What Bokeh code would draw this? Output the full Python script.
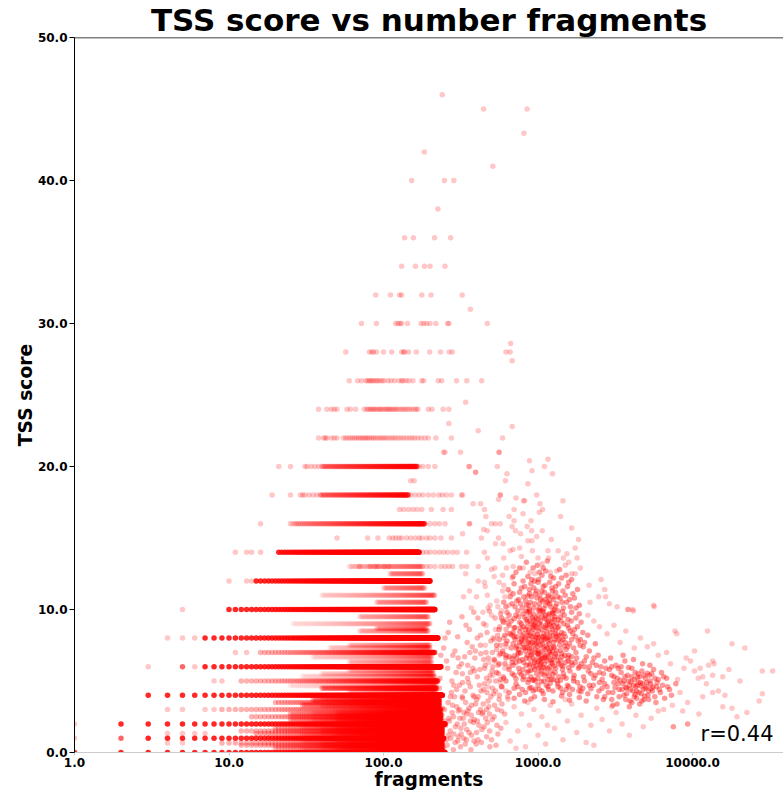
import numpy as np
from bokeh.plotting import figure
from bokeh.models import Label, Span, FixedTicker, PrintfTickFormatter
from bokeh.embed import file_html
from bokeh.resources import INLINE

TITLE = "TSS score vs number fragments"
X_LABEL = "fragments"
Y_LABEL = "TSS score"
R_TEXT = "r=0.44"
x_ticks = [1, 10, 100, 1000, 10000]
y_ticks = [0, 10, 20, 30, 40, 50]

# Bands where every fragment count between "from" and "to" occurs at one TSS level
heavy_tss = [0, 1, 2, 4, 6, 8, 10, 12, 14]
heavy_from = [1, 3, 2, 3, 7, 7, 10, 15, 21]
heavy_to = [250, 245, 250, 240, 235, 225, 215, 200, 170]

medium_tss = [3, 5, 7, 0.5, 1.5, 2.5, 3.5, 0.33, 0.67, 1.33, 1.67, 2.33, 2.67, 3.33, 3.67, 4.5, 16, 18, 20]
medium_from = [9, 12, 16, 12, 12, 14, 20, 20, 9, 15, 20, 25, 25, 30, 35, 40, 27, 39, 40]
medium_to = [235, 225, 215, 240, 240, 235, 230, 240, 240, 240, 240, 235, 235, 230, 230, 220, 185, 145, 165]

light_tss = [0.25, 0.75, 1.25, 1.75, 2.25, 2.75, 3.25, 3.75, 0.2, 0.4, 0.6, 0.8, 1.2, 1.4, 1.6, 1.8,
             2.2, 2.4, 2.6, 2.8, 4.25, 4.67, 5.33, 5.5, 5.75, 6.33, 6.67, 7.33, 7.5, 8.5, 8.67, 9,
             9.5, 10.5, 11, 11.5, 12.5, 13]
light_from = [30, 30, 30, 30, 35, 35, 40, 40, 50, 40, 40, 50, 50, 40, 40, 50,
              50, 50, 50, 50, 60, 25, 30, 40, 60, 60, 35, 45, 60, 70, 90, 26,
              70, 90, 40, 100, 110, 60]
light_to = [240, 240, 240, 240, 235, 235, 230, 230, 240, 240, 240, 240, 240, 240, 240, 240,
            235, 235, 235, 235, 220, 220, 215, 210, 210, 205, 205, 200, 200, 195, 190, 200,
            195, 190, 215, 185, 180, 180]

# single strongly stacked cells at very few fragments
stacked_pts = [(2, 1), (5, 6)]
# single cells at very few fragments
few_pts = [(1, 1), (1, 2), (3, 6), (6, 6), (4, 8), (5, 8), (6, 8), (5, 10), (4, 0.67), (5, 0.67),
           (4, 1.33), (5, 1.33), (6, 1.33), (7, 1.33), (4, 3), (5, 3), (7, 3), (8, 3), (8, 5), (9, 5),
           (10, 12), (13, 12), (14, 12), (11, 7), (13, 7)]

# sparse cells on the upper discrete TSS levels
upper_tss = [46, 45, 43.3, 42, 41, 40, 38, 36, 34, 32, 31, 30, 28.6, 28, 27.4, 26, 24.5, 24, 23,
             22.8, 22.5, 22, 21, 20, 19.6, 19, 18, 17, 16, 15, 14, 13]
upper_frags = [
    [240], [444, 850], [810], [184], [510], [152, 248, 285], [225], [137, 156, 214, 272],
    [131, 161, 184, 200, 250], [89, 111, 127, 131, 177, 203, 323], [365],
    [72, 90, 120, 124, 128, 131, 143, 175, 182, 190, 200, 218, 260, 265, 470], [665],
    [57, 81, 84, 86, 90, 100, 113, 131, 135, 137, 145, 163, 199, 234, 266, 279, 620, 660], [680],
    [60, 68, 72, 77, 79, 81, 83, 85, 87, 90, 92, 95, 98, 101, 107, 112, 118, 126, 131, 134, 140,
     146, 155, 177, 182, 226, 238, 297, 346, 432],
    [340],
    [38, 43, 46, 48, 50, 58, 61, 66, 75, 78, 80, 82, 84, 86, 88, 90, 93, 95, 97, 100, 103, 105,
     108, 110, 113, 116, 119, 122, 126, 130, 134, 138, 142, 147, 152, 158, 163, 167, 195, 206, 243, 265],
    [265], [680], [410],
    [38, 41, 42, 43, 46, 48, 50, 55, 57, 59, 61, 63, 65, 67, 69, 71, 73, 75, 77, 79, 81, 84, 86,
     89, 92, 95, 98, 101, 104, 108, 112, 116, 120, 125, 130, 135, 141, 147, 153, 159, 167, 175,
     185, 195, 218, 275, 590],
    [245, 250, 315, 560],
    [21, 25, 31, 32, 34, 36, 38, 170, 180, 195, 215, 357],
    [394], [150, 158],
    [19, 25, 29, 30, 31, 33, 35, 37, 150, 160, 170, 180, 195, 210, 228, 240, 255, 275, 325, 570],
    [127, 135, 145, 155, 165, 177, 204, 243, 275],
    [16, 25, 26, 200, 215, 230, 250, 360, 570],
    [50, 79, 92, 109, 115, 120, 126, 131, 141, 150, 160, 170, 177, 190, 200, 215, 235, 275],
    [11, 13, 14, 16, 180, 190, 200, 215, 230, 245, 260, 280, 300],
    [70, 82, 88, 92, 101, 108, 190, 200, 215, 235, 250, 265, 280],
]

# dense cloud of cells around 1000 fragments
core_pts = [
    (720, 12.6), (860, 12.3), (930, 12.9), (1010, 12.1), (1120, 12.7), (1260, 12.2), (1380, 12.8),
    (1520, 12.4), (800, 12.0), (1650, 12.1), (990, 13.1), (1190, 11.9),
    (640, 11.4), (700, 11.8), (760, 11.2), (820, 11.6), (880, 11.1), (940, 11.5), (1000, 11.9),
    (1060, 11.3), (1110, 11.7), (1170, 11.0), (1230, 11.5), (1300, 11.2), (1360, 11.8), (1450, 11.3),
    (1550, 11.6), (1680, 11.1), (1800, 11.4), (900, 11.8), (1030, 11.0), (780, 11.5),
    (600, 10.5), (660, 10.9), (710, 10.2), (750, 10.7), (790, 10.1), (830, 10.6), (870, 10.3),
    (910, 10.9), (950, 10.4), (985, 10.8), (1020, 10.1), (1070, 10.6), (1120, 10.3), (1160, 10.9),
    (1210, 10.2), (1260, 10.7), (1320, 10.4), (1390, 10.8), (1460, 10.1), (1530, 10.5), (1620, 10.2),
    (1720, 10.8), (1850, 10.3), (680, 10.4), (860, 10.95), (1090, 10.05), (1280, 10.0), (940, 10.1),
    (580, 9.4), (630, 9.8), (670, 9.2), (720, 9.6), (760, 9.1), (800, 9.7), (840, 9.3), (880, 9.9),
    (920, 9.4), (960, 9.1), (1000, 9.6), (1040, 9.2), (1080, 9.8), (1130, 9.3), (1180, 9.7),
    (1230, 9.1), (1290, 9.5), (1350, 9.9), (1410, 9.2), (1480, 9.6), (1560, 9.3), (1650, 9.8),
    (1760, 9.4), (1900, 9.1), (740, 9.9), (900, 9.0), (1010, 9.95), (1150, 9.05), (1320, 9.0),
    (820, 9.45), (1060, 9.5), (1240, 9.75), (700, 9.35), (1440, 9.85),
    (560, 8.6), (610, 8.2), (650, 8.9), (690, 8.4), (730, 8.1), (770, 8.7), (810, 8.3), (850, 8.8),
    (890, 8.2), (930, 8.6), (970, 8.05), (1010, 8.5), (1050, 8.9), (1090, 8.3), (1140, 8.7),
    (1190, 8.1), (1240, 8.6), (1300, 8.3), (1360, 8.8), (1420, 8.4), (1500, 8.1), (1580, 8.7),
    (1680, 8.3), (1800, 8.8), (1950, 8.4), (2100, 8.2), (760, 8.45), (870, 8.55), (990, 8.25),
    (1110, 8.75), (1260, 8.9), (1390, 8.15), (710, 8.75), (950, 8.95), (1070, 8.1), (1200, 8.4),
    (830, 8.0), (1620, 8.5),
    (540, 7.5), (590, 7.1), (630, 7.8), (670, 7.3), (710, 7.9), (750, 7.2), (790, 7.6), (830, 7.1),
    (870, 7.7), (910, 7.3), (950, 7.9), (990, 7.4), (1030, 7.0), (1070, 7.6), (1110, 7.2),
    (1160, 7.8), (1210, 7.3), (1260, 7.7), (1320, 7.1), (1380, 7.5), (1450, 7.9), (1520, 7.2),
    (1600, 7.6), (1700, 7.3), (1820, 7.8), (1960, 7.4), (2150, 7.1), (2350, 7.6), (780, 7.95),
    (890, 7.05), (1000, 7.75), (1130, 7.45), (1240, 7.05), (1350, 7.85), (730, 7.45), (850, 7.35),
    (960, 7.55), (1090, 7.9), (1180, 7.0), (1480, 7.45),
    (520, 6.5), (570, 6.9), (610, 6.2), (650, 6.7), (690, 6.1), (730, 6.6), (770, 6.95), (810, 6.3),
    (850, 6.8), (890, 6.2), (930, 6.6), (970, 6.1), (1010, 6.7), (1050, 6.3), (1090, 6.9),
    (1140, 6.4), (1190, 6.0), (1240, 6.5), (1300, 6.9), (1360, 6.2), (1430, 6.7), (1500, 6.3),
    (1580, 6.8), (1670, 6.1), (1780, 6.6), (1900, 6.2), (2050, 6.7), (2250, 6.3), (2450, 6.8),
    (2700, 6.4), (760, 6.4), (880, 6.55), (1000, 6.35), (1120, 6.75), (1270, 6.05), (1400, 6.45),
    (700, 6.75), (940, 6.0), (1060, 6.55), (1210, 6.85),
    (540, 5.6), (600, 5.2), (650, 5.8), (700, 5.4), (750, 5.9), (800, 5.1), (850, 5.6), (900, 5.3),
    (950, 5.8), (1000, 5.2), (1050, 5.7), (1100, 5.4), (1160, 5.9), (1220, 5.1), (1290, 5.6),
    (1360, 5.3), (1440, 5.8), (1520, 5.2), (1610, 5.7), (1710, 5.4), (1830, 5.9), (1970, 5.3),
    (2120, 5.7), (2300, 5.2), (2500, 5.6), (2750, 5.9), (3000, 5.4), (780, 5.45), (920, 5.05),
    (1080, 5.95), (1250, 5.45), (1400, 5.05), (720, 5.15), (980, 5.5), (1180, 5.35), (1580, 5.95),
    (580, 4.6), (650, 4.2), (720, 4.8), (790, 4.4), (860, 4.9), (930, 4.3), (1000, 4.7), (1080, 4.1),
    (1160, 4.6), (1250, 4.3), (1340, 4.8), (1440, 4.2), (1550, 4.7), (1670, 4.4), (1800, 4.9),
    (1950, 4.5), (2100, 4.1), (2280, 4.7), (2480, 4.3), (2700, 4.8), (760, 4.05), (900, 4.55),
    (1050, 4.95), (1200, 4.85), (1400, 4.5), (1600, 4.05), (1900, 4.25), (2200, 4.45),
    (700, 3.8), (820, 3.6), (950, 3.9), (1100, 3.7), (1250, 3.55), (1420, 3.95), (1600, 3.65),
    (1850, 3.85), (2050, 3.6), (2400, 3.9), (2650, 3.7), (900, 3.75),
    (820, 7.9), (870, 8.4), (910, 6.9), (960, 7.2), (1020, 8.1), (1080, 7.3), (1130, 6.6),
    (1180, 7.6), (1250, 8.2), (840, 6.6), (930, 8.9), (1000, 6.9), (1060, 8.6), (1150, 8.05),
    (1210, 6.45), (880, 7.25), (975, 7.65), (1040, 6.15), (1120, 7.95), (790, 8.15), (850, 9.15),
    (1100, 9.4), (1190, 8.95), (900, 5.75), (1010, 5.85), (1130, 5.55), (950, 6.45), (1270, 7.35),
    (800, 7.35), (1300, 8.55), (760, 7.7), (1230, 9.35), (890, 9.6), (1020, 10.4), (1150, 10.5),
    (1330, 6.7), (1400, 7.15), (1450, 6.05), (700, 8.1), (680, 6.55),
    (830, 8.6), (880, 6.1), (920, 7.7), (970, 8.8), (1010, 7.1), (1050, 5.5), (1090, 6.6),
    (1140, 8.4), (1190, 7.1), (1240, 6.2), (1290, 7.9), (1350, 8.2), (1420, 6.9), (1500, 7.7),
    (1560, 6.6), (860, 9.8), (940, 9.3), (1030, 9.9), (1110, 10.7), (1190, 10.4), (780, 9.0),
    (750, 7.0), (720, 6.3), (690, 7.6), (660, 8.3), (800, 5.8), (870, 5.1), (960, 4.4), (1060, 4.3),
    (1160, 5.1), (1300, 5.9), (1460, 5.5), (1640, 6.3), (1760, 7.0), (1880, 7.9), (2000, 6.0),
    (2200, 5.5), (2380, 6.1), (840, 10.3), (980, 11.3), (1080, 11.6), (1240, 10.9), (910, 12.1),
    (1060, 12.4), (1350, 9.3), (1250, 9.9), (1170, 9.6), (990, 8.7), (920, 8.1), (850, 7.6),
    (1020, 6.4), (1110, 5.9), (1210, 5.7), (1330, 5.0), (1520, 4.4), (1700, 5.0), (1870, 4.6),
    (760, 5.6), (700, 4.5), (620, 6.6),
    (760, 12.9), (840, 13.3), (950, 12.0), (1080, 12.9), (1150, 13.4), (1300, 11.6), (1420, 12.2),
    (880, 11.4), (1020, 12.6), (1210, 12.3), (690, 12.3), (1580, 11.9),
    (620, 10.2), (690, 11.1), (730, 10.6), (810, 10.9), (890, 10.5), (960, 11.1), (1040, 10.7),
    (1100, 11.2), (1180, 10.6), (1240, 11.3), (1340, 10.9), (1430, 10.5), (1500, 11.0), (1600, 10.7),
    (1760, 10.1), (880, 10.0), (1300, 10.2), (770, 10.4),
    (600, 9.1), (650, 9.6), (700, 8.7), (750, 9.5), (800, 8.8), (840, 9.9), (880, 9.2), (930, 9.7),
    (970, 9.4), (1020, 9.0), (1070, 9.9), (1120, 9.6), (1170, 9.2), (1220, 8.8), (1280, 9.3),
    (1340, 8.7), (1400, 9.5), (1470, 9.0), (1550, 8.9), (1640, 9.2), (1720, 8.6), (1850, 9.7),
    (920, 8.7), (1130, 8.9), (1260, 9.7), (1000, 9.3),
    (560, 7.9), (620, 7.6), (680, 8.2), (720, 7.3), (780, 7.8), (820, 7.3), (860, 8.2), (900, 7.6),
    (940, 8.3), (1000, 8.0), (1040, 7.5), (1100, 8.1), (1150, 7.3), (1200, 7.9), (1260, 7.4),
    (1310, 8.1), (1400, 7.8), (1470, 8.3), (1560, 7.4), (1650, 7.9), (1750, 8.1), (1870, 7.5),
    (2000, 7.7), (1050, 7.8), (960, 7.0), (880, 7.9),
    (560, 6.2), (620, 6.8), (680, 6.3), (740, 6.9), (790, 6.5), (840, 6.1), (900, 6.8), (950, 6.3),
    (1000, 6.9), (1050, 6.6), (1100, 6.2), (1160, 6.7), (1220, 6.3), (1280, 6.7), (1340, 6.4),
    (1410, 6.1), (1490, 6.8), (1570, 6.4), (1650, 6.7), (1740, 6.3), (1850, 6.0), (2000, 6.4),
    (2150, 6.0), (2300, 6.6), (1030, 6.0), (870, 5.7),
    (620, 5.0), (680, 5.5), (740, 4.6), (810, 5.3), (880, 4.5), (940, 5.1), (1020, 4.4), (1090, 5.0),
    (1170, 4.4), (1260, 5.1), (1350, 4.6), (1470, 5.3), (1580, 4.6), (1700, 5.2), (1840, 4.3),
    (2000, 5.0), (2150, 4.7), (2350, 5.4), (2600, 4.5), (1130, 4.7), (960, 5.0), (830, 4.2),
]

# dense tail of cells towards 5000 fragments
tail_pts = [
    (2600, 5.1), (2800, 4.6), (2900, 5.8), (3050, 4.2), (3100, 5.3), (3200, 6.1), (3300, 4.8),
    (3350, 3.9), (3450, 5.6), (3500, 4.4), (3600, 5.0), (3650, 6.4), (3750, 4.1), (3800, 5.4),
    (3900, 4.7), (3950, 3.6), (4050, 5.9), (4100, 4.3), (4200, 5.1), (4300, 4.6), (4350, 3.8),
    (4450, 5.5), (4500, 4.2), (4600, 4.9), (4700, 5.7), (4800, 4.4), (4850, 3.7), (4950, 5.2),
    (5050, 4.6), (5150, 4.0), (5250, 5.4), (5350, 4.8), (5500, 4.3), (5600, 5.8), (5700, 3.9),
    (5850, 4.6), (6000, 5.1), (6200, 4.2), (6400, 4.7), (6600, 3.8), (3150, 4.55), (3400, 5.05),
    (3700, 4.55), (3850, 5.95), (4000, 4.95), (4250, 4.05), (4400, 5.25), (4650, 4.65), (4900, 3.95),
    (5100, 5.55), (5400, 4.45), (3000, 3.7), (3250, 3.4), (2700, 3.9), (2950, 6.6), (3550, 6.8),
    (4150, 6.5), (4750, 6.2), (5300, 6.1), (2550, 6.0), (3900, 3.2), (4550, 3.4), (5800, 3.5),
    (6300, 5.6), (6800, 5.2), (7100, 4.4), (3300, 5.9), (3600, 4.0), (4050, 3.5), (4400, 4.7),
    (2500, 4.9), (2650, 5.5), (2850, 4.2), (3000, 6.0), (3100, 4.9), (3250, 5.2), (3350, 4.4),
    (3450, 6.0), (3550, 4.8), (3650, 5.3), (3750, 4.5), (3850, 5.0), (3950, 4.4), (4050, 5.3),
    (4150, 4.7), (4250, 5.6), (4350, 4.3), (4450, 4.9), (4550, 5.3), (4650, 4.1), (4750, 4.8),
    (4850, 5.4), (4950, 4.5), (5050, 4.9), (5200, 4.3), (5300, 5.0), (5450, 5.5), (5550, 4.6),
    (5700, 5.2), (5900, 4.9), (6100, 4.4), (6500, 5.3), (6900, 4.6), (7300, 4.0), (7800, 4.8),
    (3050, 3.3), (3700, 3.7), (4200, 3.9), (4700, 3.6), (5200, 3.7),
]

# scattered cells above the dense cloud
spike_pts = [
    (560, 21), (360, 20), (545, 20), (880, 20.4), (1160, 20.5), (1100, 20), (395, 19.6), (630, 19.5),
    (915, 19.7), (1240, 19.5), (615, 19), (860, 18.8), (570, 18), (720, 17.8), (980, 18), (555, 17.7),
    (805, 17.6), (820, 17.6), (1450, 17.6), (1030, 17.4), (380, 17.4), (425, 17.4), (450, 17),
    (700, 17), (800, 16.7), (1070, 17), (1020, 16.8), (320, 18), (1400, 16.5), (650, 16.5),
    (460, 16.5), (360, 16), (500, 16), (530, 16), (900, 16.2), (700, 16.2), (680, 15.8), (850, 15.8),
    (1650, 15.7), (445, 15.6), (470, 15.5), (715, 15.5), (910, 15.5), (1065, 15.5), (770, 15.3),
    (325, 15.3), (430, 15), (555, 15), (595, 14.6), (530, 14.6), (860, 14.8), (915, 14.8),
    (1220, 14.9), (980, 15.1), (1830, 14.9), (660, 14.1), (690, 14.2), (760, 14.3), (920, 14.1),
    (1160, 14.1), (1350, 14.1), (1540, 13.9), (1740, 14.3), (450, 14), (345, 14), (470, 13.6),
    (600, 13.6), (780, 13.7), (1000, 13.6), (1170, 13.6), (1460, 13.6), (1790, 13.6), (1500, 13.1),
    (1580, 13.3), (1880, 12.9), (1065, 13.2), (625, 12.9), (690, 13), (800, 12.9), (890, 12.6),
    (955, 12.5), (1200, 12.6), (1320, 12.7), (1650, 12.5), (1740, 12.5), (2140, 11.7), (2560, 12.1),
    (2700, 11.4), (3250, 10.2), (3850, 10), (4100, 10), (5600, 10.3), (2470, 10.9), (2740, 10.9),
    (2900, 10.4), (2170, 10.5), (345, 13), (320, 13), (410, 13), (525, 12.9), (340, 12.5),
    (520, 12.3), (410, 12), (450, 11.9), (455, 11.6), (360, 11.3), (400, 10.9), (330, 10.9),
    (590, 11.3), (610, 10.9), (660, 11.2), (550, 10.2), (475, 10.1), (370, 10.1), (440, 9.8),
]

# scattered cells between the discrete bands and the dense cloud
bridge_pts = [
    (210, 0.6), (225, 1.8), (240, 3.1), (255, 0.9), (265, 2.4), (275, 4.2), (285, 1.3), (295, 5.6),
    (305, 2.9), (315, 0.4), (325, 3.8), (335, 6.7), (345, 1.6), (355, 4.9), (365, 2.2), (375, 7.4),
    (385, 0.8), (395, 3.4), (405, 5.3), (415, 1.9), (425, 8.2), (435, 2.7), (445, 4.4), (455, 6.1),
    (465, 1.1), (475, 3.6), (485, 5.0), (495, 7.8), (505, 2.3), (515, 4.1), (525, 6.4), (535, 0.5),
    (545, 3.0), (555, 5.5), (565, 8.8), (575, 1.7), (585, 4.6), (595, 6.9), (215, 2.7), (230, 4.5),
    (245, 0.3), (260, 5.9), (270, 1.5), (280, 3.3), (290, 7.1), (300, 2.0), (310, 4.7), (320, 6.2),
    (330, 1.0), (340, 3.5), (350, 5.2), (360, 8.6), (370, 2.6), (380, 4.0), (390, 6.6), (400, 1.4),
    (410, 3.9), (420, 5.8), (430, 0.7), (440, 2.8), (450, 4.8), (460, 7.0), (470, 2.1), (480, 3.2),
    (490, 5.4), (500, 0.9), (510, 6.0), (520, 2.5), (530, 4.3), (540, 7.2), (550, 1.3), (560, 3.7),
    (570, 5.1), (580, 2.9), (590, 9.2), (235, 6.8), (250, 8.0), (268, 9.1), (288, 3.9), (308, 6.0),
    (328, 2.4), (348, 7.7), (368, 0.2), (388, 5.7), (408, 9.4), (428, 4.3), (448, 1.8), (468, 8.4),
    (488, 0.4), (508, 4.5), (205, 3.4), (212, 1.2), (218, 2.2), (222, 0.3), (228, 3.7), (233, 1.5),
    (238, 2.6), (243, 0.9), (248, 3.0), (252, 1.9), (258, 0.5), (262, 3.5), (267, 2.2), (272, 1.0),
    (278, 2.8), (283, 0.2), (292, 1.8), (298, 3.2), (303, 0.8), (312, 2.4), (318, 1.3), (323, 3.9),
    (333, 2.0), (338, 0.6), (352, 2.9), (358, 1.4), (372, 3.3), (382, 2.1), (398, 0.6), (412, 2.8),
    (232, 5.2), (241, 4.0), (249, 2.2), (256, 6.4), (263, 1.2), (271, 3.9), (277, 5.0), (284, 2.5),
    (291, 0.7), (297, 4.4), (304, 6.6), (311, 3.0), (317, 1.7), (324, 5.5), (331, 2.8), (337, 4.3),
    (344, 0.9), (351, 6.1), (357, 3.1), (364, 4.6), (371, 1.2), (378, 5.9), (386, 2.3), (393, 7.1),
    (401, 3.7), (409, 0.9), (417, 4.7), (426, 6.9), (433, 1.6), (442, 3.4), (451, 5.9), (459, 2.4),
    (468, 4.2), (477, 6.6), (486, 1.5), (495, 3.9), (504, 5.7), (513, 8.0), (523, 3.3), (532, 5.0),
    (542, 1.9), (552, 6.1), (562, 4.0), (573, 7.5), (584, 3.4), (596, 5.3), (608, 2.7), (621, 8.6),
    (635, 3.9), (648, 6.0), (245, 7.3), (262, 8.4), (281, 6.8), (302, 8.1), (322, 9.5), (342, 8.9),
    (362, 7.0), (384, 9.8), (404, 8.0), (424, 7.5), (444, 9.0), (464, 5.2), (484, 9.9), (506, 7.0),
    (527, 9.4), (548, 8.2), (572, 9.7), (598, 8.0), (625, 9.3), (285, 4.7), (305, 1.1), (325, 4.9),
    (345, 2.7), (365, 5.6), (385, 3.9), (405, 2.2), (425, 3.0), (445, 6.5), (465, 3.0), (485, 2.7),
]

# scattered cells with low TSS at many fragments
low_pts = [
    (620, 2.1), (660, 0.8), (700, 3.2), (740, 1.5), (780, 2.7), (830, 0.4), (880, 1.9), (940, 3.0),
    (1000, 1.2), (1060, 2.5), (1120, 0.6), (1200, 3.3), (1280, 1.7), (1360, 2.9), (1450, 0.9),
    (1550, 2.2), (1650, 3.4), (1780, 1.4), (1900, 2.6), (2050, 0.7), (2200, 1.9), (2400, 3.1),
    (2600, 2.3), (2900, 1.5), (3200, 2.8), (3500, 2.0), (3900, 1.2), (4300, 2.6), (4800, 1.8),
    (5400, 2.4), (640, 3.7), (720, 0.3), (860, 3.5), (1150, 1.9), (1500, 3.7), (2300, 0.5),
    (3000, 3.2), (6000, 2.9), (7500, 1.8), (9300, 2.0),
]

# scattered cells left of the dense cloud
halo_pts = [
    (460, 8.9), (480, 6.3), (500, 9.6), (520, 7.9), (540, 10.6), (560, 6.8), (580, 9.9), (600, 11.7),
    (620, 7.4), (640, 9.0), (470, 11.0), (510, 5.4), (530, 8.6), (570, 4.9), (610, 5.9), (650, 10.3),
    (680, 12.2), (490, 10.3), (455, 7.5), (590, 12.4), (475, 4.6), (620, 4.3), (560, 11.9),
    (500, 12.8), (640, 8.3),
]

# scattered cells at the largest fragment counts
far_pts = [
    (2100, 9.6), (2300, 9.2), (2500, 8.8), (2800, 8.3), (3100, 8.9), (3400, 7.7), (3700, 8.5),
    (4200, 7.3), (4600, 8.0), (5100, 7.4), (5650, 10.2), (3800, 10.0), (4140, 9.9), (7700, 8.5),
    (7900, 8.3), (10300, 7.1), (13500, 6.4), (17200, 5.8), (15700, 5.3), (20300, 5.0), (15700, 3.2),
    (18000, 3.1), (22500, 2.8), (19400, 2.5), (10900, 5.2), (12300, 4.8), (13500, 4.2), (11650, 3.9),
    (9300, 3.5), (8640, 2.9), (9300, 2.0), (7530, 1.8), (11000, 2.7), (14700, 4.3), (16200, 4.0),
    (13500, 5.4), (11650, 5.3), (11200, 5.9), (9700, 6.4), (9100, 6.6), (10300, 5.7), (12700, 6.1),
    (13800, 6.2), (12500, 8.5), (18000, 7.6), (21800, 7.3), (28300, 5.7), (28300, 4.1), (27000, 3.6),
    (33000, 5.7), (7200, 6.2), (8000, 5.1), (6800, 7.0), (7400, 3.3), (8300, 4.2), (6000, 6.8),
    (5600, 7.6), (6500, 3.0), (8800, 5.9),
]


def band_points(levels, first, last):
    xs, ys = [], []
    for t, a, b in zip(levels, first, last):
        for f in range(a, b + 1):
            xs.append(f)
            ys.append(t)
    return xs, ys


def split(pairs):
    return [a for a, _ in pairs], [b for _, b in pairs]


FONT = "DejaVu Sans"
RED = "#ff0000"

p = figure(x_axis_type="log", x_range=(1, 38800), y_range=(0, 50),
           width=783, height=792,
           min_border_left=74, min_border_right=0, min_border_top=0, min_border_bottom=0,
           output_backend="svg", toolbar_location=None)
p.background_fill_color = "white"
p.border_fill_color = "white"
p.outline_line_color = None
p.grid.visible = False

p.title.text = TITLE
p.title.align = "center"
p.title.text_font = FONT
p.title.text_font_size = "31px"
p.title.text_font_style = "bold"
p.title.text_color = "black"
p.title.standoff = -1


def dots(xs, ys, alpha):
    p.scatter(xs, ys, size=5.5, fill_color=RED, fill_alpha=alpha, line_color=None)


dots(*band_points(light_tss, light_from, light_to), 0.08)
dots(*band_points(medium_tss, medium_from, medium_to), 0.3)
dots(*band_points(heavy_tss, heavy_from, heavy_to), 0.85)
dots(*split(stacked_pts), 0.6)

ux, uy = [], []
for t, fr in zip(upper_tss, upper_frags):
    ux.extend(fr)
    uy.extend([t] * len(fr))
sx, sy = [], []
for group in (few_pts, spike_pts, low_pts, halo_pts, far_pts):
    gx, gy = split(group)
    sx.extend(gx)
    sy.extend(gy)
dots(ux + sx, uy + sy, 0.22)
dots(*split(bridge_pts), 0.3)
cx, cy = split(core_pts + tail_pts)
dots(cx, cy, 0.4)

p.xaxis.ticker = FixedTicker(ticks=x_ticks)
p.yaxis.ticker = FixedTicker(ticks=y_ticks)
p.xaxis.formatter = PrintfTickFormatter(format="%.1f")
p.yaxis.formatter = PrintfTickFormatter(format="%.1f")
p.xaxis.minor_tick_line_color = None
p.yaxis.minor_tick_line_color = None

for ax in (p.xaxis[0], p.yaxis[0]):
    ax.major_label_text_font = FONT
    ax.major_label_text_font_size = "12px"
    ax.major_label_text_font_style = "bold"
    ax.major_label_text_color = "black"
    ax.axis_label_text_font = FONT
    ax.axis_label_text_font_size = "18.7px"
    ax.axis_label_text_font_style = "bold"
    ax.axis_label_text_color = "black"
    ax.major_tick_in = 0

p.xaxis.axis_label = X_LABEL
p.yaxis.axis_label = Y_LABEL
p.xaxis.axis_line_color = "#cccccc"
p.xaxis.major_tick_line_color = "#cccccc"
p.xaxis.major_tick_out = 3
p.xaxis.major_label_standoff = 2
p.xaxis.axis_label_standoff = -1
p.yaxis.axis_line_color = "black"
p.yaxis.major_tick_line_color = "black"
p.yaxis.major_tick_out = 5
p.yaxis.major_label_standoff = 2
p.yaxis.axis_label_standoff = -1

p.add_layout(Span(location=50, dimension="width", line_color="black", line_width=1.5))

p.add_layout(Label(x=699, y=19, x_units="screen", y_units="screen", text=R_TEXT,
                   text_align="right", text_baseline="alphabetic", text_font=FONT,
                   text_font_size="21px", text_color="black"))

open("out.html", "w").write(file_html(p, INLINE))
